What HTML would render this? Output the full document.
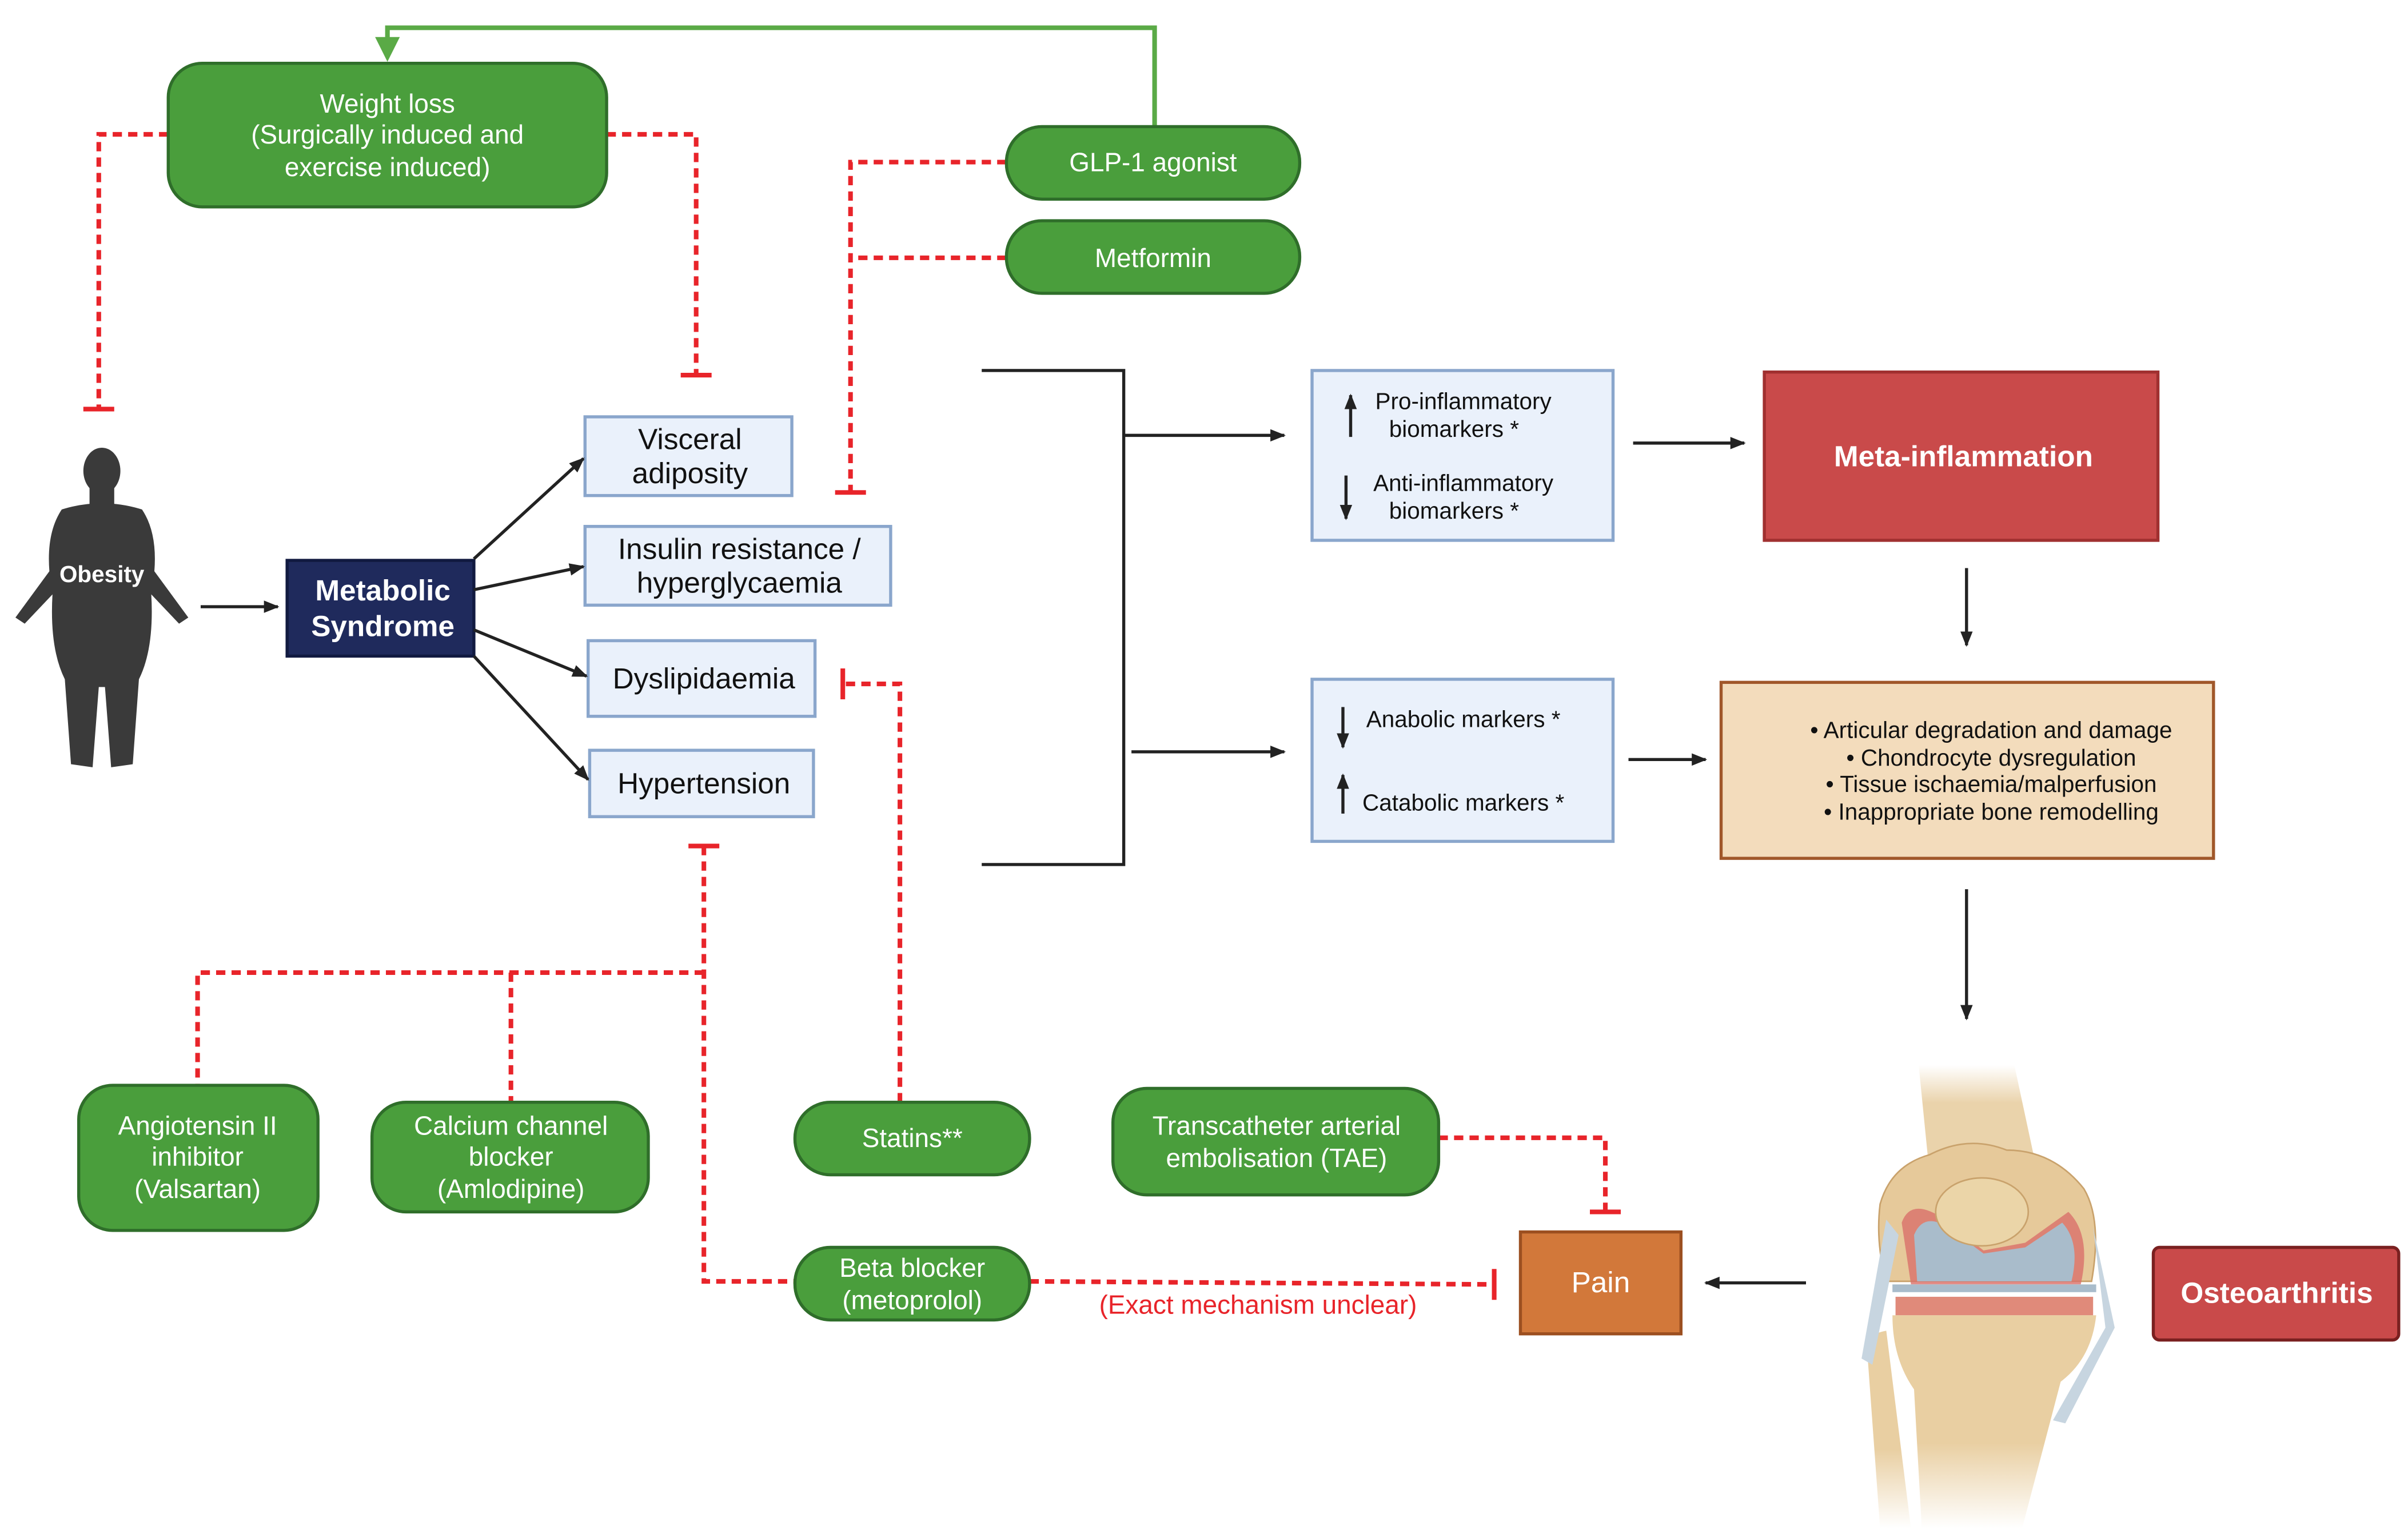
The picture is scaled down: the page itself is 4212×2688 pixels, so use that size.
<!DOCTYPE html>
<html><head><meta charset="utf-8"><style>
html,body{margin:0;padding:0;background:#fff;}
svg{display:block;}
text{font-family:"Liberation Sans",sans-serif;}
</style></head><body>
<svg width="4212" height="2688" viewBox="0 0 1560 995.6" preserveAspectRatio="none" xmlns="http://www.w3.org/2000/svg">
<defs>
<marker id="ab" markerWidth="10" markerHeight="10" refX="9" refY="5" orient="auto" markerUnits="userSpaceOnUse"><path d="M0,1 L10,5 L0,9 z" fill="#222"/></marker>
<linearGradient id="fadeT" x1="0" y1="0" x2="0" y2="1"><stop offset="0" stop-color="#ead3ab" stop-opacity="0"/><stop offset="0.35" stop-color="#ead3ab" stop-opacity="1"/></linearGradient>
<linearGradient id="fadeB" x1="0" y1="0" x2="0" y2="1"><stop offset="0.6" stop-color="#e9cfa2" stop-opacity="1"/><stop offset="1" stop-color="#e9cfa2" stop-opacity="0"/></linearGradient>
</defs>
<g fill="none" stroke="#5aaa46" stroke-width="3"><path d="M748,82 V18 H251 V26"/></g>
<path d="M243,24 L259,24 L251,40 z" fill="#5aaa46"/>
<!-- red dotted -->
<g fill="none" stroke="#e8242a" stroke-width="3" stroke-dasharray="6,4">
<path d="M109,87 H64 V265"/><path d="M393,87 H451 V243"/>
<path d="M652,105 H551 V319"/><path d="M652,167 H551"/>
<path d="M583,714 V443 H546"/>
<path d="M456,548 V830 H515"/><path d="M456,630 H128 V703"/><path d="M331,630 V714"/>
<path d="M932,737 H1040 V785"/><path d="M667,830 L968,832"/>
</g>
<g stroke="#e8242a" stroke-width="3">
<path d="M54,265 H74"/><path d="M441,243 H461"/><path d="M541,319 H561"/>
<path d="M546,433 V453"/><path d="M446,548 H466"/><path d="M1030,785 H1050"/><path d="M968,822 V842"/>
</g>
<text x="815" y="851" fill="#e8242a" font-size="17" text-anchor="middle">(Exact mechanism unclear)</text>
<!-- green boxes -->
<g fill="#4a9e3c" stroke="#2f6e2a" stroke-width="2">
<rect x="109" y="41" width="284" height="93" rx="22"/>
<rect x="652" y="82" width="190" height="47" rx="23"/>
<rect x="652" y="143" width="190" height="47" rx="23"/>
<rect x="51" y="703" width="155" height="94" rx="22"/>
<rect x="241" y="714" width="179" height="71" rx="22"/>
<rect x="515" y="714" width="152" height="47" rx="23"/>
<rect x="515" y="808" width="152" height="47" rx="23"/>
<rect x="721" y="705" width="211" height="69" rx="22"/>
</g>
<g fill="#fff" font-size="17" text-anchor="middle">
<text x="251" y="73">Weight loss</text><text x="251" y="93">(Surgically induced and</text><text x="251" y="114">exercise induced)</text>
<text x="747" y="111">GLP-1 agonist</text><text x="747" y="173">Metformin</text>
<text x="128" y="735">Angiotensin II</text><text x="128" y="755">inhibitor</text><text x="128" y="776">(Valsartan)</text>
<text x="331" y="735">Calcium channel</text><text x="331" y="755">blocker</text><text x="331" y="776">(Amlodipine)</text>
<text x="591" y="743">Statins**</text>
<text x="591" y="827">Beta blocker</text><text x="591" y="848">(metoprolol)</text>
<text x="827" y="735">Transcatheter arterial</text><text x="827" y="756">embolisation (TAE)</text>
</g>
<!-- obesity silhouette -->
<g fill="#3a3a3a">
<ellipse cx="66" cy="305" rx="12" ry="15"/>
<rect x="58" y="316" width="16" height="12"/>
<path d="M40,330 Q66,322 92,330 Q102,345 100,370 L122,400 L116,404 L98,385 Q100,420 90,440 L86,495 L72,497 L68,445 L64,445 L60,497 L46,495 L42,440 Q32,420 34,385 L16,404 L10,400 L32,370 Q30,345 40,330 z"/>
</g>
<text x="66" y="377" fill="#fff" font-size="15" font-weight="bold" text-anchor="middle">Obesity</text>
<!-- metabolic syndrome -->
<rect x="186" y="363" width="121" height="62" fill="#1f2a5c" stroke="#111a40" stroke-width="2"/>
<text x="248" y="389" fill="#fff" font-size="19" font-weight="bold" text-anchor="middle">Metabolic</text>
<text x="248" y="412" fill="#fff" font-size="19" font-weight="bold" text-anchor="middle">Syndrome</text>
<g fill="#eaf1fb" stroke="#8aa6cc" stroke-width="2">
<rect x="379" y="270" width="134" height="51"/><rect x="379" y="341" width="198" height="51"/>
<rect x="381" y="415" width="147" height="49"/><rect x="382" y="486" width="145" height="43"/>
<rect x="850" y="240" width="195" height="110"/><rect x="850" y="440" width="195" height="105"/>
</g>
<!-- black arrows -->
<g stroke="#222" stroke-width="2" fill="none" marker-end="url(#ab)">
<path d="M130,393 H180"/>
<path d="M307,362 L378,297"/><path d="M307,382 L378,367"/><path d="M307,408 L380,438"/><path d="M307,425 L381,505"/>
<path d="M728,282 H832"/><path d="M733,487 H832"/>
<path d="M1058,287 H1130"/><path d="M1274,368 V418"/><path d="M1055,492 H1105"/><path d="M1274,576 V660"/>
<path d="M1170,831 H1105"/>
<path d="M875,283 V256"/><path d="M872,308 V336"/><path d="M870,458 V484"/><path d="M870,527 V502"/>
</g>
<path d="M636,240 H728 V560 H636" fill="none" stroke="#222" stroke-width="2"/>
<g fill="#111" font-size="19" text-anchor="middle">
<text x="447" y="291">Visceral</text><text x="447" y="313">adiposity</text>
<text x="479" y="362">Insulin resistance /</text><text x="479" y="384">hyperglycaemia</text>
<text x="456" y="446">Dyslipidaemia</text><text x="456" y="514">Hypertension</text>
</g>
<g fill="#111" font-size="15" text-anchor="middle">
<text x="948" y="265">Pro-inflammatory</text><text x="942" y="283">biomarkers *</text>
<text x="948" y="318">Anti-inflammatory</text><text x="942" y="336">biomarkers *</text>
<text x="948" y="471">Anabolic markers *</text><text x="948" y="525">Catabolic markers *</text>
</g>
<rect x="1143" y="241" width="255" height="109" fill="#c94a4a" stroke="#a03030" stroke-width="2"/>
<text x="1272" y="302" fill="#fff" font-size="19" font-weight="bold" text-anchor="middle">Meta-inflammation</text>
<rect x="1115" y="442" width="319" height="114" fill="#f3dcbc" stroke="#a0572a" stroke-width="2"/>
<g fill="#111" font-size="15" text-anchor="middle">
<text x="1290" y="478">•  Articular degradation and damage</text>
<text x="1290" y="496">•  Chondrocyte dysregulation</text>
<text x="1290" y="513">•  Tissue ischaemia/malperfusion</text>
<text x="1290" y="531">•  Inappropriate bone remodelling</text>
</g>
<!-- knee -->
<g>
<path d="M1243,690 L1305,690 L1320,760 L1250,760 z" fill="url(#fadeT)"/>
<path d="M1218,780 Q1225,755 1250,748 Q1275,735 1300,745 Q1330,745 1350,770 Q1362,790 1355,830 L1222,830 Q1215,805 1218,780 z" fill="#e6c99a" stroke="#c9a26c"/>
<path d="M1232,792 Q1238,775 1260,790 L1285,810 L1312,805 L1340,785 Q1355,800 1348,832 L1238,832 z" fill="#d9706a" opacity="0.8"/>
<path d="M1240,800 Q1246,785 1262,795 L1285,812 L1312,808 L1336,792 Q1348,805 1342,830 L1242,830 z" fill="#a9bccb"/>
<ellipse cx="1284" cy="785" rx="30" ry="22" fill="#ebd5a8" stroke="#c9a26c"/>
<rect x="1226" y="832" width="132" height="5" fill="#a9bccb"/>
<rect x="1228" y="840" width="128" height="12" fill="#e08a7a"/>
<path d="M1226,852 H1358 Q1355,880 1335,895 L1310,990 H1245 L1240,900 Q1226,880 1226,852 z" fill="url(#fadeB)"/>
<path d="M1210,880 Q1205,865 1222,862 L1238,990 L1218,990 z" fill="url(#fadeB)"/>
<path d="M1222,790 L1206,880 L1213,884 L1230,800 z" fill="#c7d5e0"/>
<path d="M1356,795 L1364,860 L1330,920 L1338,922 L1370,860 z" fill="#c7d5e0"/>
</g>
<rect x="1395" y="808" width="159" height="60" rx="4" fill="#c94a4a" stroke="#7a2020" stroke-width="2"/>
<text x="1475" y="844" fill="#fff" font-size="19" font-weight="bold" text-anchor="middle">Osteoarthritis</text>
<rect x="985" y="798" width="104" height="66" fill="#d2783a" stroke="#9c4f20" stroke-width="2"/>
<text x="1037" y="837" fill="#fff" font-size="19" text-anchor="middle">Pain</text>
</svg>
</body></html>
